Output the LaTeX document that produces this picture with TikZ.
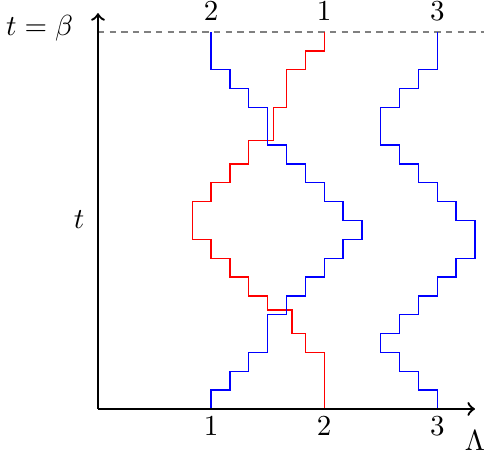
\documentclass[tikz,border=0pt]{standalone}
\begin{document}
\begin{tikzpicture}[x=6.5pt,y=6.5pt,
  axis/.style={thick,->},
  blueline/.style={blue,line width=0.45pt},
  redline/.style={red,line width=0.45pt},
  lab/.style={inner sep=0pt,anchor=base},
  betaline/.style={gray,dash pattern=on 2.2pt off 1.8pt,line width=0.45pt}]
\useasboundingbox (-5.2,-2.33) rectangle (20.48,21.70);
% axes
\coordinate (O) at (0,0);
\coordinate (xend) at (20,0);
\coordinate (yend) at (0,21);
\coordinate (bl) at (0,20);
\coordinate (br) at (20.48,20);
\draw[betaline] (bl) -- (br);
% red world line
\draw[redline] (12,0)--(12,3)--(11,3)--(11,4)--(10.3,4)--(10.3,5.25)--(9,5.25)--(9,6)--(8,6)--(8,7)--(7,7)--(7,8)--(6,8)--(6,9)--(5,9)--(5,11)--(6,11)--(6,12)--(7,12)--(7,13)--(8,13)--(8,14.25)--(9.3,14.25)--(9.3,16)--(10,16)--(10,18)--(11,18)--(11,19)--(12,19)--(12,20);
% blue world lines
\draw[blueline] (6,0)--(6,1)--(7,1)--(7,2)--(8,2)--(8,3)--(9,3)--(9,5)--(10,5)--(10,6)--(11,6)--(11,7)--(12,7)--(12,8)--(13,8)--(13,9)--(14,9)--(14,10)--(13,10)--(13,11)--(12,11)--(12,12)--(11,12)--(11,13)--(10,13)--(10,14)--(9,14)--(9,16)--(8,16)--(8,17)--(7,17)--(7,18)--(6,18)--(6,20);
\draw[blueline] (18,20)--(18,18)--(17,18)--(17,17)--(16,17)--(16,16)--(15,16)--(15,14)--(16,14)--(16,13)--(17,13)--(17,12)--(18,12)--(18,11)--(19,11)--(19,10)--(20,10)--(20,8)--(19,8)--(19,7)--(18,7)--(18,6)--(17,6)--(17,5)--(16,5)--(16,4)--(15,4)--(15,3)--(16,3)--(16,2)--(17,2)--(17,1)--(18,1)--(18,0);
\draw[axis] (O) -- (xend);
\draw[axis] (O) -- (yend);
% labels
\node[lab] (tb) at (-3.1,19.84) {$t=\beta$};
\node[lab] (t) at (-1.0,9.55) {$t$};
\node[lab] (b1) at (6,-1.43) {1};
\node[lab] (b2) at (12,-1.43) {2};
\node[lab] (b3) at (18,-1.43) {3};
\node[lab] (lam) at (20,-2.2) {$\Lambda$};
\node[lab] (t2) at (6,20.6) {2};
\node[lab] (t1) at (12,20.6) {1};
\node[lab] (t3) at (18,20.6) {3};
\end{tikzpicture}
\end{document}
